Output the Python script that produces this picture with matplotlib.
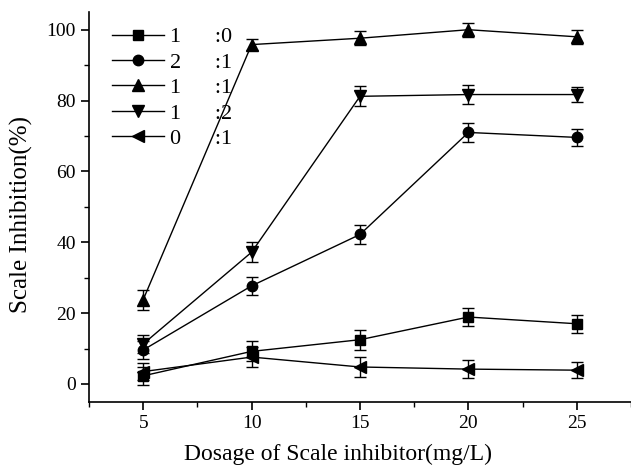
import matplotlib
matplotlib.use("Agg")
import matplotlib.pyplot as plt
from matplotlib.ticker import MultipleLocator
from matplotlib.lines import Line2D

dosage = [5, 10, 15, 20, 25]
labels = ["1      :0", "2      :1", "1      :1", "1      :2", "0      :1"]
s_10 = [2.3, 9.2, 12.5, 18.9, 17.0]
s_21 = [9.6, 27.7, 42.2, 71.0, 69.6]
s_11 = [23.8, 95.8, 97.6, 100.0, 98.0]
s_12 = [11.3, 37.2, 81.2, 81.7, 81.7]
s_01 = [3.5, 7.6, 4.8, 4.2, 3.9]
e_10 = [2.5, 2.8, 2.8, 2.5, 2.5]
e_21 = [2.5, 2.6, 2.8, 2.8, 2.5]
e_11 = [2.8, 1.5, 2.0, 2.0, 2.0]
e_12 = [2.5, 2.8, 2.8, 2.8, 2.2]
e_01 = [2.5, 2.8, 2.8, 2.5, 2.2]

series = [s_10, s_21, s_11, s_12, s_01]
errors = [e_10, e_21, e_11, e_12, e_01]
markers = ["s", "o", "^", "v", "<"]
msizes = [7, 7.5, 8.5, 8.5, 8.5]

plt.rcParams['font.family'] = ['Liberation Serif', 'DejaVu Serif']

fig = plt.figure(figsize=(6.31, 4.70), dpi=100)
ax = fig.add_axes([89/631, (470-401.7)/470, (631-89)/631, (401.7-12)/470])

handles = []
for y, e, m, ms, lab in zip(series, errors, markers, msizes, labels):
    ax.errorbar(dosage, y, yerr=e, color='black', marker=m, markersize=ms,
                linewidth=1.0, elinewidth=1.0, capsize=4, capthick=1.0)
    handles.append(Line2D([], [], color='black', marker=m, markersize=ms,
                          linewidth=1.0, label=lab))

ax.set_xlim(2.5, 27.5)
ax.set_ylim(-5, 105)
ax.set_xticks(dosage)
ax.xaxis.set_minor_locator(MultipleLocator(2.5))
ax.set_yticks([0, 20, 40, 60, 80, 100])
ax.yaxis.set_minor_locator(MultipleLocator(10))
ax.spines['top'].set_visible(False)
ax.spines['right'].set_visible(False)
for sp in ['left', 'bottom']:
    ax.spines[sp].set_linewidth(1.2)
ax.tick_params(which='major', direction='out', length=6, width=1.2, labelsize=14)
ax.tick_params(which='minor', direction='out', length=3.5, width=1.0)

ax.set_xlabel("Dosage of Scale inhibitor(mg/L)", fontsize=17)
ax.xaxis.set_label_coords(0.46, -0.108)
ax.set_ylabel("Scale Inhibition(%)", fontsize=18)
ax.yaxis.set_label_coords(-0.103, 0.48)

leg = ax.legend(handles=handles, loc='upper left', bbox_to_anchor=(0.026, 0.985),
                frameon=False, fontsize=16, handlelength=2.35, handletextpad=0.27,
                labelspacing=0.22, borderaxespad=0)

fig.savefig("out.png", dpi=100)
